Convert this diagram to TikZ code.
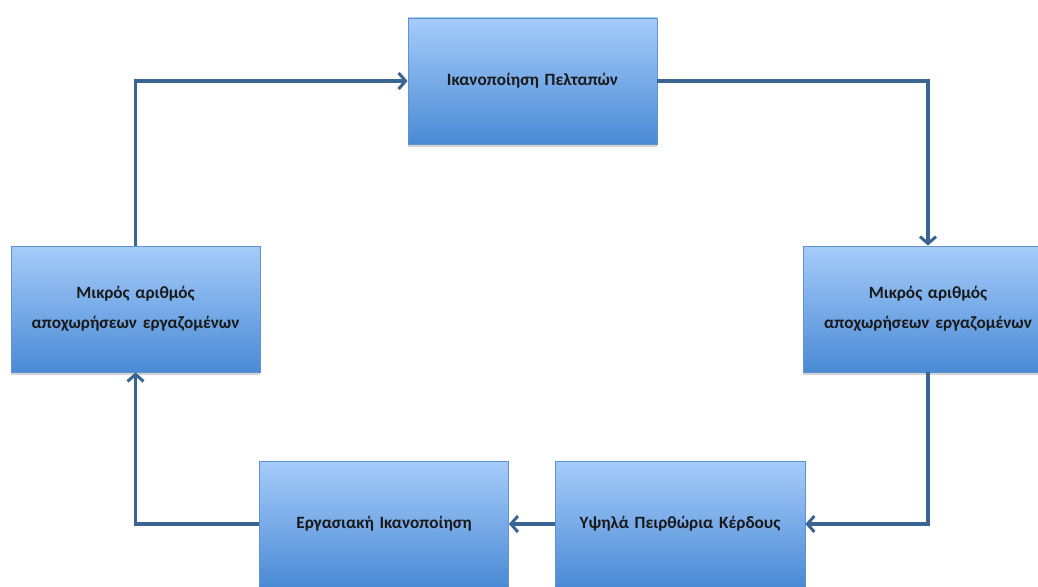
\documentclass[tikz,border=0pt]{standalone}
\usepackage{fontspec}
\setmainfont{Carlito}
\usetikzlibrary{arrows.meta,shadows}
\definecolor{boxtop}{HTML}{A6CCFA}
\definecolor{boxbot}{HTML}{4A8AD5}
\definecolor{boxedge}{HTML}{5E93CF}
\definecolor{linkblue}{HTML}{3A6592}
\tikzset{
  stagebox/.style={rectangle, draw=boxedge, line width=0.8pt,
    top color=boxtop, bottom color=boxbot,
    minimum width=249pt, minimum height=126pt, inner sep=0pt,
    align=center, text width=240pt,
    font=\bfseries\fontsize{17.2}{30}\selectfont, text=black!90,
    drop shadow={shadow xshift=0pt, shadow yshift=-3pt, opacity=0.35}},
  link/.style={draw=linkblue, line width=3.2pt,
    -{Straight Barb[length=7pt,width=16pt,line width=3pt]}}
}
\begin{document}
\begin{tikzpicture}[x=1pt,y=-1pt]
\useasboundingbox (0,0) rectangle (1038,586);
\clip (0,0) rectangle (1038,586);
\node[stagebox] (top) at (532.5,81) {Ικανοποίηση Πελταπών};
\node[stagebox] (left) at (135.5,309) {Μικρός αριθμός\\αποχωρήσεων εργαζομένων};
\node[stagebox, minimum width=250pt] (right) at (928,309) {Μικρός αριθμός\\αποχωρήσεων εργαζομένων};
\node[stagebox, minimum width=250pt] (br) at (680,524) {Υψηλά Πειρθώρια Κέρδους};
\node[stagebox] (bl) at (384,524) {Εργασιακή Ικανοποίηση};
\draw[link] (left.north) |- (top.west);
\draw[link] (top.east) -| (right.north);
\draw[link] (right.south) |- (br.east);
\draw[link] (br.west) -- (bl.east);
\draw[link] (bl.west) -| (left.south);
\end{tikzpicture}
\end{document}
